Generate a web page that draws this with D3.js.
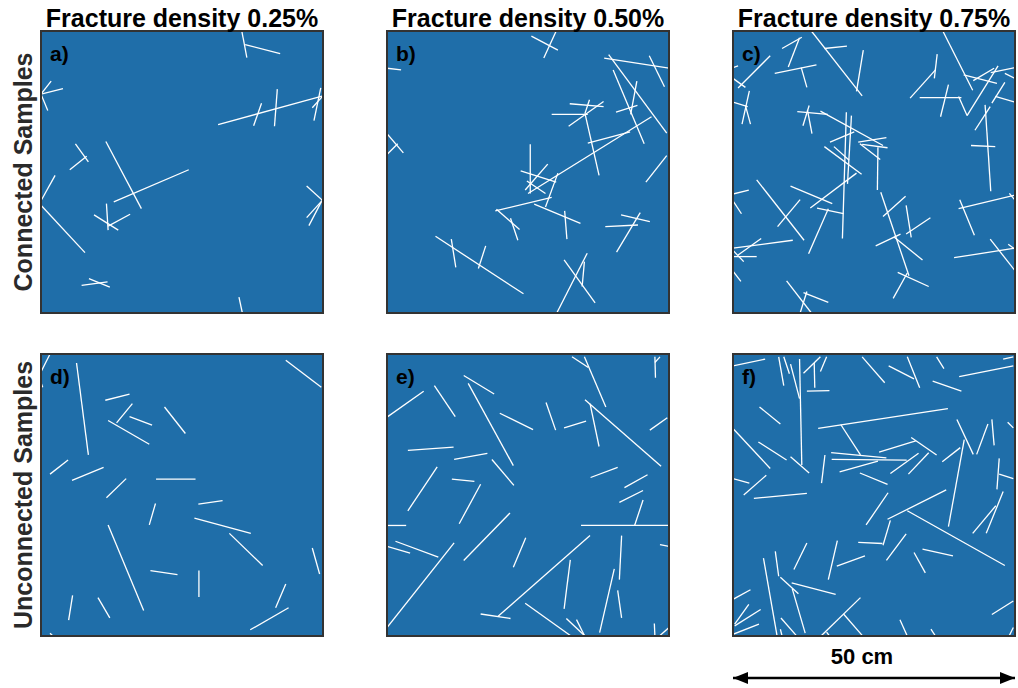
<!DOCTYPE html>
<html>
<head>
<meta charset="utf-8">
<script src="https://cdn.jsdelivr.net/npm/d3@7/dist/d3.min.js"></script>
<style>
  html, body { margin: 0; padding: 0; background: #fff; }
  svg { display: block; }
</style>
</head>
<body>
<svg id="chart" width="1018" height="688"></svg>
<script>
// Discrete fracture networks in 50 cm x 50 cm samples.
// Each fracture is a segment [x1, y1, x2, y2] in cm, origin at the lower-left corner.

const densities = ["0.25%", "0.50%", "0.75%"];
const rowLabels = ["Connected Samples", "Unconnected Samples"];
const panelLetters = ["a)", "b)", "c)", "d)", "e)", "f)"];
const sampleSize = 50; // cm
const scaleBarLabel = "50 cm";

const connected025 = [
  [35.6,50,36.5,45.3],[36.2,47.6,42.4,46.0],
  [0,38.8,1.8,41.1],[0,38.8,3.9,39.8],[0,38.8,1.2,35.9],
  [31.4,33.4,50,38.5],[37.7,33.2,39.1,37.2],[41.4,33.1,41.9,39.7],
  [49.6,39.9,48.4,34.1],[50,38.5,48.1,36.4],
  [6.1,30.0,8.4,26.8],[5.1,25.4,8.1,27.8],
  [11.5,30.4,17.8,18.5],[12.9,19.7,26.2,25.4],
  [0,19.9,2.5,24.4],[0,19.1,7.8,10.7],
  [11.6,19.4,11.9,14.7],[9.4,17.4,13.7,14.7],[11.9,15.4,15.8,17.5],
  [47.1,22.5,50,19.9],[47.1,16.9,50,20.1],[47.5,15.5,49.7,19.7],
  [7.2,4.9,11.8,5.5],[8.5,6.1,12.2,4.6],
  [35.1,2.8,35.7,0]
];

const connected050 = [
  [25.6,49.1,30.3,46.6],[30.0,50,27.8,45.2],[0,43.4,2.5,43.1],
  [38.5,45.2,50,43.4],[39.3,45.8,49.6,31.9],[40.1,43.1,45.6,30.0],
  [46.5,45.6,49.2,40.1],[44.3,41.1,43.2,35.2],[40.6,35.6,44.4,36.8],
  [32.4,37.1,38.4,36.6],[35.9,37.8,35.1,35.4],[29.2,35.2,35.6,35.2],
  [32.2,33.1,38.4,37.5],[35.1,35.4,37.6,24.4],
  [25.0,21.2,46.9,34.8],[35.6,30.1,43.1,32.1],
  [25.4,29.9,25.4,21.2],[23.7,25.2,30.0,23.2],[24.5,21.8,28.5,26.4],
  [24.8,23.4,28.1,21.2],[30.3,24.8,28.1,18.8],[19.2,18.1,29.2,20.5],
  [26.1,19.3,34.3,15.9],[31.5,18.1,31.9,13.1],
  [19.4,18.4,23.5,14.8],[21.9,16.8,23.2,12.9],
  [0,31.8,2.9,28.4],[0,28.1,1.9,30.0],
  [49.6,27.9,45.9,23.2],
  [41.5,17.4,46.6,16.2],[38.7,15.3,44.5,15.6],[44.9,17.8,40.7,10.8],
  [8.6,13.6,24.2,3.4],[11.4,13.1,12.2,8.1],[17.5,11.9,16.2,7.9],
  [31.4,9.4,36.9,1.8],[35.5,10.6,30.1,0],[35.0,9.1,34.6,4.7]
];

const connected075 = [
  [8.7,46.9,12.2,48.9],[11.8,48.8,9.8,43.6],[13.9,50,22.9,38.5],
  [16.2,46.9,20.2,47.3],[23.1,46.6,21.9,39.3],[7.4,42.5,14.8,44.0],
  [12.1,43.5,13.1,40.0],[0,43.5,0.9,43.8],[0.9,39.9,6.6,45.6],
  [0,41.6,2.2,40.0],[2.9,39.4,1.6,33.5],[0,37.4,2.6,36.6],[2.2,36.8,3.1,33.5],
  [37.2,50,42.5,39.5],[36.2,45.9,35.7,41.6],[31.4,38.1,35.9,43.1],
  [33.1,38.2,40.5,38.2],[38.2,40.5,36.8,34.8],
  [40.0,38.4,41.5,35.0],[41.5,35.0,47.0,43.8],
  [40.9,42.2,46.8,40.7],[42.6,41.2,46.3,43.4],[45.7,42.6,50,43.5],
  [48.2,42.5,50,41.6],[45.9,37.2,48.2,40.9],[46.5,38.4,50,37.4],
  [44.7,36.9,45.7,21.6],[42.9,32.4,45.6,36.6],[42.2,29.7,46.5,29.5],
  [11.4,35.7,16.8,35.2],[13.5,36.8,12.4,33.2],[13.2,36.0,14.0,31.8],
  [15.5,35.8,26.6,29.7],[20.1,35.6,19.4,13.2],[21.0,35.0,20.3,22.9],
  [17.2,30.3,21.5,32.1],[16.2,29.5,22.8,24.6],[17.9,29.5,20.6,27.1],
  [22.2,30.3,27.2,31.1],[22.5,30.0,26.1,27.2],[22.9,29.9,27.4,29.3],
  [25.7,29.4,25.6,21.8],[13.7,18.6,21.9,24.8],[10.2,22.5,17.6,19.4],
  [4.2,23.6,12.6,12.9],[7.9,15.3,11.9,20.1],
  [14.9,18.6,19.6,17.6],[16.9,18.5,13.4,10.5],
  [0,21.1,2.8,21.8],[0,19.9,1.5,17.6],
  [0,11.5,10.6,12.9],[0,10.0,4.2,10.0],[0.9,10.3,5.0,13.2],[0,11.1,1.9,9.1],
  [0,7.4,1.4,5.6],
  [26.2,21.4,31.2,6.6],[26.6,17.1,30.6,20.7],[25.3,11.9,29.7,14.0],
  [28.5,13.5,33.6,9.4],[30.7,19.1,31.6,13.4],[30.7,14.0,35.0,16.9],
  [29.2,7.2,34.7,4.7],[30.9,7.1,28.4,2.6],
  [40.0,18.5,50,20.9],[40.2,20.1,42.8,13.8],[49.0,21.2,50,20.0],
  [39.2,9.8,50,11.5],[45.6,13.1,50,7.5],[48.8,12.2,50,11.3],
  [9.5,5.7,13.9,0],[12.5,3.6,16.9,1.9],[13.1,3.8,11.9,0]
];

const unconnected025 = [
  [0,46.8,1.6,50],[0,44.9,0.3,44.1],
  [6.3,48.4,8.4,32.1],[43.4,48.9,49.7,44.1],
  [11.4,41.8,15.7,42.9],[13.4,37.8,16.2,41.2],[15.7,38.9,19.7,37.4],
  [11.9,38.2,19.2,34.0],[21.9,40.6,25.6,35.9],
  [1.6,28.7,4.8,31.2],[5.5,27.6,11.1,29.9],[11.6,24.5,15.1,27.9],
  [20.4,27.8,27.4,27.8],[19.2,19.7,20.3,23.5],[27.9,23.4,32.2,24.0],
  [27.2,20.9,37.2,18.2],[33.4,18.2,39.3,12.5],[11.9,19.7,18.2,4.5],
  [19.4,11.6,24.2,10.9],[28.0,11.6,28.0,6.9],[48.1,15.6,49.4,11.0],
  [4.9,2.8,5.6,7.2],[10.1,6.8,12.2,3.2],[41.6,5.0,43.4,9.2],
  [37.1,1.1,43.9,5.0],[1.6,0.5,2.1,0]
];

const unconnected050 = [
  [0,38.8,6.5,43.4],[8.4,44.4,12.1,38.9],[13.6,46.2,19.0,42.9],
  [14.4,44.8,22.4,30.2],[20.0,39.5,25.9,36.6],[28.2,41.4,29.9,36.5],
  [31.4,36.9,35.3,38.1],[32.8,49.5,35.7,47.6],[35.0,49.5,38.8,40.6],
  [47.5,49.5,47.6,45.8],[47.5,48.5,48.4,49.5],
  [35.1,41.9,48.6,30.1],[36.0,41.2,37.6,33.6],[46.6,36.5,49.7,38.7],
  [3.7,32.9,11.8,33.5],[11.9,31.3,17.8,32.4],[18.6,31.3,22.5,26.7],
  [3.7,22.2,8.9,30.0],[11.5,27.8,15.5,27.4],[12.8,19.9,16.6,26.9],
  [36.1,28.1,40.9,29.9],[42.1,26.3,46.2,28.6],[41.2,23.7,45.4,25.8],
  [34.4,19.6,50,19.6],[43.9,19.6,45.4,24.1],[0,19.6,3.4,19.6],
  [0,15.9,4.1,14.7],[1.5,16.8,9.1,14.0],[0,1.5,11.9,16.5],
  [13.6,13.4,21.8,21.8],[22.4,12.2,24.6,17.4],[19.7,3.5,36.0,17.8],
  [16.6,3.9,21.9,3.1],[24.5,5.8,32.5,0.1],[31.4,4.8,32.5,13.5],
  [41.2,10.0,41.6,17.8],[37.7,0.6,40.3,11.9],[40.9,8.1,41.6,3.2],
  [31.8,3.1,35.0,0.1],[33.6,2.9,35.0,0.1],[48.4,16.2,50,15.9],
  [47.4,2.2,47.5,0],[48.4,0.1,50,1.5]
];

const unconnected075 = [
  [0,47.9,5.7,49.1],[8.1,49.5,9.0,44.4],[9.0,49.5,10.0,46.5],
  [10.2,48.2,11.8,42.1],[11.8,49.1,12.2,30.3],[12.5,46.6,15.5,49.5],
  [14.4,48.4,14.5,44.0],[13.1,43.4,17.1,43.5],[15.5,46.9,16.6,49.5],
  [22.9,49.5,26.9,44.9],[27.6,47.9,32.1,45.6],[30.9,49.5,33.1,44.0],
  [36.1,49.5,37.4,47.4],[35.4,45.2,40.5,43.4],[40.1,46.0,49.7,47.9],
  [47.9,49.1,49.7,49.5],[4.7,40.6,8.4,37.6],[15.1,36.8,38.1,40.3],
  [19.1,37.5,22.6,32.1],[0,36.8,6.6,29.7],[4.5,34.4,9.5,31.2],
  [10.2,31.8,13.5,28.9],[17.4,32.5,27.2,31.6],[17.5,31.3,30.8,31.2],
  [18.9,29.1,25.7,31.0],[25.9,32.6,32.4,34.6],[31.6,35.2,36.1,32.1],
  [27.9,28.8,32.9,32.4],[31.1,28.7,34.7,32.5],[22.5,28.9,27.4,26.9],
  [16.3,32.1,15.7,27.1],[0,27.9,2.9,27.1],[1.9,25.0,5.9,28.5],
  [3.7,24.4,13.1,25.3],[37.1,30.9,40.3,33.4],[39.7,38.4,42.6,32.2],
  [41.0,34.8,38.2,19.4],[43.2,32.2,45.2,37.6],[45.9,38.4,46.3,33.8],
  [48.7,37.9,49.7,36.9],[47.2,31.5,46.8,26.0],[47.2,28.7,49.7,27.9],
  [23.6,19.7,27.5,25.4],[27.4,20.7,37.8,25.9],[30.9,22.2,48.2,12.5],
  [26.6,16.1,27.9,20.5],[22.2,16.6,26.5,16.4],[27.2,13.4,30.7,18.1],
  [42.5,18.2,46.6,23.1],[44.9,18.2,47.9,25.6],[33.6,15.4,39.0,14.2],
  [32.1,14.8,34.1,11.2],[10.8,11.8,13.1,16.5],[16.9,10.0,18.5,16.9],
  [18.4,12.4,23.4,14.2],[7.5,15.0,8.1,10.6],[5.4,13.8,7.8,0.1],
  [8.4,10.4,11.6,7.5],[10.4,9.4,18.2,7.4],[10.5,8.4,12.8,0.5],
  [0,6.5,3.1,8.2],[0.3,2.1,2.8,5.6],[0.3,1.8,4.9,4.7],[0,0.3,4.6,2.1],
  [8.5,3.2,11.2,0.1],[8.4,1.2,8.7,0],[15.7,0.1,22.6,6.8],
  [19.6,3.9,22.9,0.1],[16.6,0.7,17.1,0],[29.6,2.9,30.9,0],
  [35.1,1.2,35.9,0],[45.9,3.8,49.7,6.2],[49.0,0.1,49.7,1.5]
];

const panels = [
  connected025, connected050, connected075,
  unconnected025, unconnected050, unconnected075
];

// Layout
const panelPx = 282;
const colX = [41, 387, 733];
const rowY = [31, 354];
const FONT = "Liberation Sans, Arial, sans-serif";

const svg = d3.select("#chart");

const x = d3.scaleLinear().domain([0, sampleSize]).range([0, panelPx]);
const y = d3.scaleLinear().domain([0, sampleSize]).range([panelPx, 0]);

panels.forEach((segs, i) => {
  const col = i % 3, row = Math.floor(i / 3);
  const g = svg.append("g")
    .attr("transform", `translate(${colX[col]},${rowY[row]})`);

  const clipId = `clip-${i}`;
  g.append("clipPath").attr("id", clipId)
    .append("rect").attr("width", panelPx).attr("height", panelPx);

  g.append("rect")
    .attr("width", panelPx).attr("height", panelPx)
    .attr("fill", "#1f6ea9");

  g.append("g").attr("clip-path", `url(#${clipId})`)
    .selectAll("line").data(segs).join("line")
    .attr("x1", d => x(d[0])).attr("y1", d => y(d[1]))
    .attr("x2", d => x(d[2])).attr("y2", d => y(d[3]))
    .attr("stroke", "#ffffff")
    .attr("stroke-width", 1.3)
    .attr("stroke-linecap", "butt");

  g.append("rect")
    .attr("width", panelPx).attr("height", panelPx)
    .attr("fill", "none")
    .attr("stroke", "#333333")
    .attr("stroke-width", 2);

  g.append("text")
    .attr("x", 9).attr("y", 30)
    .attr("font-family", FONT)
    .attr("font-weight", "bold")
    .attr("font-size", 21)
    .attr("fill", "#000")
    .text(panelLetters[i]);
});

// Column titles
densities.forEach((d, c) => {
  svg.append("text")
    .attr("x", colX[c] + panelPx / 2).attr("y", 27)
    .attr("text-anchor", "middle")
    .attr("font-family", FONT)
    .attr("font-weight", "bold")
    .attr("font-size", 25)
    .attr("fill", "#000")
    .text(`Fracture density ${d}`);
});

// Row labels
rowLabels.forEach((t, r) => {
  const cy = rowY[r] + panelPx / 2;
  svg.append("text")
    .attr("transform", `translate(32,${cy}) rotate(-90)`)
    .attr("text-anchor", "middle")
    .attr("font-family", FONT)
    .attr("font-weight", "bold")
    .attr("font-size", 25)
    .attr("fill", "#2a2a2a")
    .text(t);
});

// Scale bar under the last column
const sbX0 = colX[2], sbX1 = colX[2] + x(sampleSize), sbY = 678;
const defs = svg.append("defs");
defs.append("marker").attr("id", "arrowhead")
  .attr("viewBox", "0 0 15 12").attr("refX", 15).attr("refY", 6)
  .attr("markerWidth", 15).attr("markerHeight", 12)
  .attr("markerUnits", "userSpaceOnUse")
  .attr("orient", "auto-start-reverse")
  .append("path").attr("d", "M0,0 L15,6 L0,12 Z").attr("fill", "#000");

svg.append("line")
  .attr("x1", sbX0).attr("y1", sbY)
  .attr("x2", sbX1).attr("y2", sbY)
  .attr("stroke", "#000").attr("stroke-width", 2.5)
  .attr("marker-start", "url(#arrowhead)")
  .attr("marker-end", "url(#arrowhead)");

svg.append("text")
  .attr("x", 862).attr("y", 664)
  .attr("text-anchor", "middle")
  .attr("font-family", FONT)
  .attr("font-weight", "bold")
  .attr("font-size", 22)
  .attr("fill", "#000")
  .text(scaleBarLabel);
</script>
</body>
</html>
